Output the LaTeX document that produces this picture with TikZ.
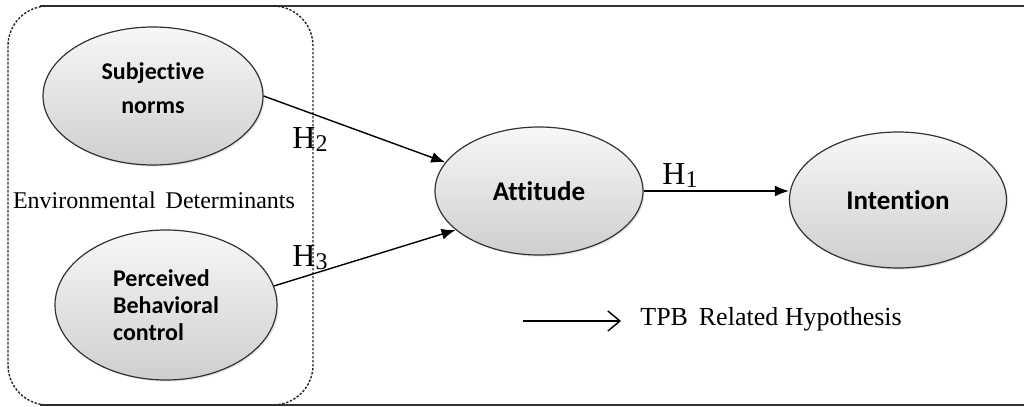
\documentclass[tikz,border=0pt]{standalone}
\usepackage{fontspec}
\setmainfont{Liberation Serif}
\newfontfamily\calfont[Ligatures=NoCommon]{Carlito}
\usetikzlibrary{shapes.geometric,arrows.meta,shadows}
\newcommand{\hsub}[1]{H{\fontsize{12}{12}\selectfont\raisebox{-1.5pt}{#1}}}
\begin{document}
\begin{tikzpicture}[x=0.5pt, y=-0.5pt,
  construct/.style={ellipse, draw=black!80, line width=0.6pt, top color=gray!6, bottom color=gray!38,
    drop shadow={opacity=0.2, shadow xshift=0.8pt, shadow yshift=-0.8pt},
    font=\calfont\bfseries\fontsize{12}{13.5}\selectfont, inner sep=0pt},
  bigconstruct/.style={construct, font=\calfont\bfseries\fontsize{13.5}{15}\selectfont},
  hyp/.style={-{Latex[length=7pt,width=5.5pt]}, line width=0.7pt},
  hlabel/.style={font=\fontsize{16}{18}\selectfont, inner sep=0pt, anchor=west}]
\useasboundingbox (0,0) rectangle (1024,407);
\draw[line width=1pt, black!80] (40,6) -- (1024,6);
\draw[line width=1pt, black!80] (40,405) -- (1024,405);
\node[draw, black!85, line width=0.7pt, dash pattern=on 1.2pt off 0.8pt, rounded corners=20pt,
  minimum width=152.5pt, minimum height=199.5pt] (env) at (160.5,205.5) {};
\node[font=\fontsize{12}{14}\selectfont, inner sep=0pt] (envlabel) at (154,200) {Environmental\, Determinants};
\node[construct, minimum width=110pt, minimum height=69pt, align=center] (subj) at (153,96) {Subjective\\[3.5pt]norms\\[-5.5pt]\mbox{}};
\node[construct, minimum width=111pt, minimum height=75pt, align=left] (perc) at (166,305) {Perceived\\Behavioral\\control};
\node[bigconstruct, minimum width=104pt, minimum height=64pt] (att) at (539,191) {Attitude};
\node[bigconstruct, minimum width=108.5pt, minimum height=68pt] (int) at (898,200) {Intention};
\draw[hyp] (subj.east) -- (att.163);
\draw[hyp] (perc.10) -- (att.205);
\draw[hyp] (att.east) -- (att.east -| int.west);
\node[hlabel] (h2) at (292,140) {\hsub{2}};
\node[hlabel] (h3) at (292,258) {\hsub{3}};
\node[hlabel] (h1) at (662,176) {\hsub{1}};
\coordinate (lgstart) at (523,321);
\coordinate (lgend) at (621,321);
\draw[-{Straight Barb[length=6pt,width=10pt]}, line width=0.7pt] (lgstart) -- (lgend);
\node[font=\fontsize{13}{15}\selectfont, inner sep=0pt, anchor=base west] (tpb) at (640,325) {TPB\, Related Hypothesis};
\end{tikzpicture}
\end{document}
